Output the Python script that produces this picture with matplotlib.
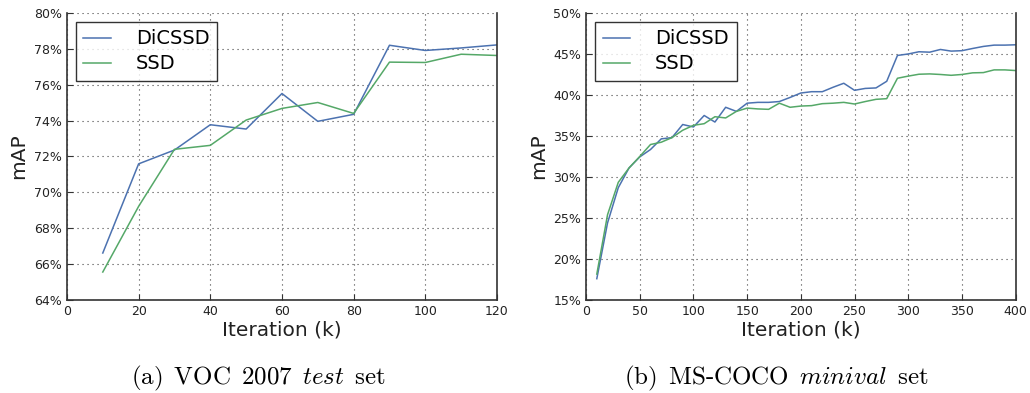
import numpy as np
import matplotlib
matplotlib.use("Agg")
import matplotlib.pyplot as plt
from matplotlib.ticker import FuncFormatter

plt.rcParams['mathtext.fontset'] = 'cm'

# VOC 2007 test
voc_iter = [10, 20, 30, 40, 50, 60, 70, 80, 90, 100, 110, 120]
voc_dicssd = [66.62, 71.59, 72.36, 73.77, 73.53, 75.51, 73.96, 74.35, 78.20, 77.91, 78.05, 78.22]
voc_ssd = [65.56, 69.22, 72.40, 72.62, 74.03, 74.68, 75.01, 74.40, 77.26, 77.24, 77.70, 77.63]

# MS-COCO minival
coco_iter = list(range(10, 410, 10))
coco_dicssd = [17.6, 24.4, 28.7, 31.1, 32.45, 33.35, 34.65, 34.8, 36.4, 36.1,
               37.5, 36.7, 38.5, 38.0, 39.0, 39.1, 39.1, 39.2, 39.7, 40.24,
               40.4, 40.4, 40.94, 41.43, 40.57, 40.8, 40.86, 41.67, 44.82, 45.0,
               45.27, 45.22, 45.55, 45.35, 45.4, 45.67, 45.92, 46.08, 46.08, 46.12]
coco_ssd = [18.16, 25.4, 29.35, 31.1, 32.5, 33.96, 34.24, 34.8, 35.7, 36.3,
            36.5, 37.35, 37.2, 38.0, 38.4, 38.3, 38.25, 39.0, 38.5, 38.65,
            38.7, 38.94, 39.0, 39.1, 38.9, 39.2, 39.47, 39.55, 42.04, 42.3,
            42.53, 42.57, 42.5, 42.4, 42.5, 42.7, 42.73, 43.06, 43.06, 42.98]

captions = [r'$\mathrm{(a)\ \,VOC\ \,2007}\ \,\mathit{test}\ \,\mathrm{set}$',
            r'$\mathrm{(b)\ \,MS\text{-}COCO}\ \,\mathit{minival}\ \,\mathrm{set}$']

blue = '#4C72B0'
green = '#55A868'

fig = plt.figure(figsize=(10.3, 3.93), dpi=100)
ax1 = fig.add_axes([0.065, 0.2366, 0.4175, 0.7304])
ax2 = fig.add_axes([0.569, 0.2366, 0.417, 0.7304])


def style(ax, x, a, b, xlim, ylim, ystep):
    ax.plot(x, a, color=blue, lw=1.1, label='DiCSSD')
    ax.plot(x, b, color=green, lw=1.1, label='SSD')
    ax.set_xlim(*xlim)
    ax.set_ylim(*ylim)
    ax.set_yticks(np.arange(ylim[0], ylim[1] + 0.01, ystep))
    ax.yaxis.set_major_formatter(FuncFormatter(lambda v, p: '%d%%' % round(v)))
    ax.grid(True, color='#444444', linestyle=(0, (1, 3.5)), linewidth=0.8)
    ax.spines['top'].set_visible(False)
    for s in ['left', 'bottom', 'right']:
        ax.spines[s].set_color('#333333')
        ax.spines[s].set_linewidth(1.2)
    ax.tick_params(direction='in', length=4, labelsize=9, colors='#333333',
                   labelcolor='#222222', top=False, right=False)
    ax.set_xlabel('Iteration (k)', fontsize=14.5, color='#222222', labelpad=2)
    ax.set_ylabel('mAP', fontsize=14.5, color='#222222', labelpad=4)
    leg = ax.legend(loc='upper left', fontsize=14, fancybox=False,
                    borderaxespad=0.45, handlelength=1.4, handletextpad=1.3,
                    borderpad=0.4, labelspacing=0.3)
    leg.get_frame().set_edgecolor('black')
    leg.get_frame().set_linewidth(1.0)


style(ax1, voc_iter, voc_dicssd, voc_ssd, (0, 120), (64, 80), 2)
style(ax2, coco_iter, coco_dicssd, coco_ssd, (0, 400), (15, 50), 5)

fig.text(0.2505, 0.037, captions[0], ha='center', va='center', fontsize=18)
fig.text(0.7535, 0.037, captions[1], ha='center', va='center', fontsize=18)

fig.savefig('out.png', dpi=100)
